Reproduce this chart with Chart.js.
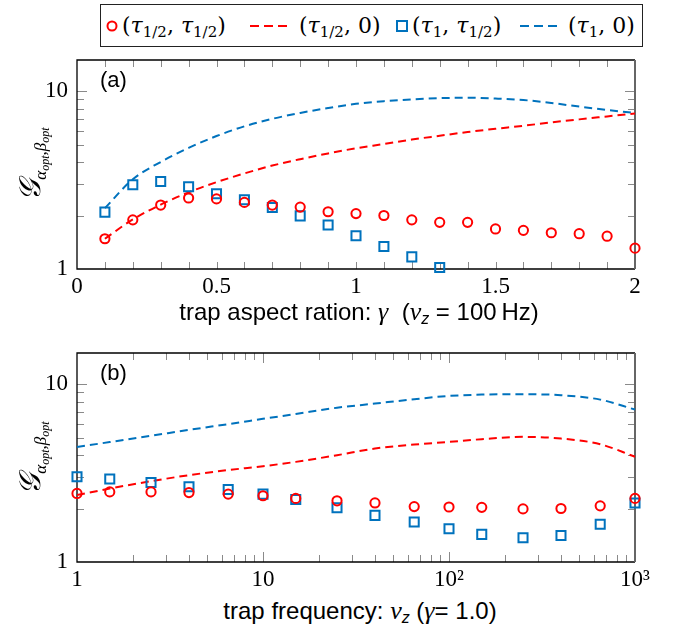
<!DOCTYPE html>
<html><head><meta charset="utf-8">
<script src="https://cdn.jsdelivr.net/npm/chart.js@4"></script>
<style>
body{margin:0;background:#fff;width:673px;height:635px;position:relative;overflow:hidden;font-family:"Liberation Sans",Arial,sans-serif;color:#000;}
canvas{position:absolute;left:0;}
.abs{position:absolute;white-space:nowrap;}
.lg{font-family:"DejaVu Serif",serif;font-size:22px;line-height:32px;top:10px;}
.lg sub{font-size:15px;vertical-align:-4px;line-height:0;}
.m{font-family:"Liberation Serif",serif;font-style:italic;}
.xt{font-size:24px;transform:translate(-50%,-50%);}
.xt .m{font-size:26px;}
.xt sub{font-size:16px;vertical-align:-4px;line-height:0;}
.yt{font-family:"Liberation Serif",serif;transform:translate(-50%,-50%) rotate(-90deg);}
.yt .G{font-size:30px;font-style:italic;}
.yt sub{font-size:17px;vertical-align:-6px;line-height:0;font-style:italic;}
.yt sub sub{font-size:12px;vertical-align:-3px;}
.pl{font-size:22px;}
</style>
</head><body>
<div class="abs" style="left:100px;top:4px;width:541px;height:41px;border:1.3px solid #222;"></div>
<svg class="abs" style="left:0;top:0" width="673" height="50">
  <circle cx="112" cy="26" r="4.5" fill="none" stroke="#ff0000" stroke-width="2"/>
  <line x1="250" y1="26" x2="288" y2="26" stroke="#ff0000" stroke-width="2.2" stroke-dasharray="9,5"/>
  <rect x="397" y="21" width="10" height="10" fill="none" stroke="#0072bd" stroke-width="2"/>
  <line x1="520" y1="26" x2="559" y2="26" stroke="#0072bd" stroke-width="2.2" stroke-dasharray="9,5"/>
</svg>
<div class="abs lg" style="left:122px;">(<i>τ</i><sub>1/2</sub>, <i>τ</i><sub>1/2</sub>)</div>
<div class="abs lg" style="left:299px;">(<i>τ</i><sub>1/2</sub>, 0)</div>
<div class="abs lg" style="left:412px;">(<i>τ</i><sub>1</sub>, <i>τ</i><sub>1/2</sub>)</div>
<div class="abs lg" style="left:568px;">(<i>τ</i><sub>1</sub>, 0)</div>

<canvas id="ca" width="673" height="250" style="top:50px"></canvas>
<canvas id="cb" width="673" height="250" style="top:340px"></canvas>

<div class="abs pl" style="left:100px;top:67px;">(a)</div>
<div class="abs pl" style="left:100px;top:360px;">(b)</div>

<div class="abs yt" style="left:30px;top:164px;"><span class="G">𝒢</span><sub>α<sub>opt</sub>,β<sub>opt</sub></sub></div>
<div class="abs yt" style="left:30px;top:458px;"><span class="G">𝒢</span><sub>α<sub>opt</sub>,β<sub>opt</sub></sub></div>

<div class="abs xt" style="left:359px;top:312px;">trap aspect ration: <span class="m">γ</span>&nbsp; (<span class="m">ν</span><sub><i>z</i></sub> = 100&#8201;Hz)</div>
<div class="abs xt" style="left:360px;top:611px;">trap frequency: <span class="m">ν</span><sub><i>z</i></sub> (<span class="m">γ</span>= 1.0)</div>

<script>
// ---------- data ----------
const gammaVals = [0.1,0.2,0.3,0.4,0.5,0.6,0.7,0.8,0.9,1.0,1.1,1.2,1.3,1.4,1.5,1.6,1.7,1.8,1.9,2.0];
const aCircles  = [1.48,1.89,2.29,2.51,2.48,2.37,2.29,2.23,2.10,2.05,2.00,1.89,1.83,1.83,1.68,1.65,1.60,1.58,1.53,1.31];
const aRedLine  = [1.48,1.90,2.30,2.70,3.08,3.45,3.82,4.15,4.47,4.78,5.05,5.35,5.62,5.90,6.15,6.40,6.68,6.95,7.22,7.50];
const gammaSq   = [0.1,0.2,0.3,0.4,0.5,0.6,0.7,0.8,0.9,1.0,1.1,1.2,1.3];
const aSquares  = [2.09,2.98,3.11,2.90,2.65,2.45,2.22,1.99,1.77,1.54,1.34,1.17,1.02];
const aBlueLine = [2.20,3.20,4.00,4.80,5.60,6.35,7.00,7.55,8.05,8.50,8.80,9.00,9.15,9.20,9.10,8.93,8.60,8.20,7.85,7.55];

const nuVals    = [1,1.5,2.5,4,6.5,10,15,25,40,65,100,150,250,400,650,1000];
const bCircles  = [2.43,2.48,2.48,2.46,2.41,2.36,2.28,2.21,2.15,2.05,2.04,2.03,1.99,2.00,2.07,2.28];
const bSquares  = [3.02,2.93,2.80,2.65,2.56,2.41,2.25,2.02,1.83,1.68,1.54,1.43,1.37,1.41,1.63,2.15];
const bRedLine  = [2.38,2.59,2.85,3.08,3.29,3.46,3.66,3.99,4.35,4.58,4.74,4.91,5.06,4.95,4.60,3.91];
const bBlueLine = [4.44,4.73,5.13,5.54,5.97,6.39,6.81,7.38,7.79,8.24,8.60,8.75,8.79,8.68,8.20,7.21];

const yTickVals   = [1,10];
const yTickLabels = ["1","10"];
const xTickValsA  = [0,0.5,1,1.5,2];
const xTickLabelsA= ["0","0.5","1","1.5","2"];
const xTickValsB  = [1,10,100,1000];
const xTickLabelsB= ["1","10","10\u00B2","10\u00B3"];

const RED = '#ff0000', BLUE = '#0072bd';

// ---------- helpers ----------
const pts = (xs, ys) => xs.map((x,i)=>({x:x, y:ys[i]}));
const logMinor = (lo, hi) => { const out=[]; for(let d=lo; d<hi; d*=10){ for(let k=1;k<10;k++){ const v=d*k; if(v>=lo && v<=hi) out.push({v, len: k===1?10:7}); } } out.push({v:hi,len:10}); return out; };

const frameTicks = {
  id:'frameTicks',
  beforeDatasetsDraw(chart, args, o){
    const {ctx, chartArea:{left,right,top,bottom}, scales:{x,y}} = chart;
    ctx.save();
    ctx.strokeStyle = '#8a8a8a'; ctx.lineWidth = 1;
    o.xt.forEach(t=>{ const p=Math.round(x.getPixelForValue(t.v))+0.5; if(p<left+1||p>right-1) return;
      ctx.beginPath(); ctx.moveTo(p,bottom); ctx.lineTo(p,bottom-t.len); ctx.moveTo(p,top); ctx.lineTo(p,top+t.len); ctx.stroke(); });
    o.yt.forEach(t=>{ const p=Math.round(y.getPixelForValue(t.v))+0.5; if(p<top+1||p>bottom-1) return;
      ctx.beginPath(); ctx.moveTo(left,p); ctx.lineTo(left+t.len,p); ctx.moveTo(right,p); ctx.lineTo(right-t.len,p); ctx.stroke(); });
    ctx.strokeStyle = '#000'; ctx.lineWidth = 1.3;
    ctx.beginPath(); ctx.moveTo(right,top); ctx.lineTo(left,top); ctx.lineTo(left,bottom); ctx.lineTo(right,bottom); ctx.stroke();
    ctx.strokeStyle = '#666'; ctx.lineWidth = 2;
    ctx.beginPath(); ctx.moveTo(right,top); ctx.lineTo(right,bottom); ctx.stroke();
    ctx.restore();
  }
};

function datasets(xs, circ, xsq, sq, red, blue){
  return [
    {data:pts(xs,circ), showLine:false, pointStyle:'circle', pointRadius:4.6, borderColor:RED, backgroundColor:'rgba(0,0,0,0)', pointBorderWidth:2, order:1, clip:false},
    {data:pts(xsq,sq), showLine:false, pointStyle:'rect', pointRadius:6.4, borderColor:BLUE, backgroundColor:'rgba(0,0,0,0)', pointBorderWidth:2, order:1, clip:false},
    {data:pts(xs,red), showLine:true, pointRadius:0, borderColor:RED, borderWidth:2, borderDash:[8,5], cubicInterpolationMode:'monotone', order:2, clip:false},
    {data:pts(xs,blue), showLine:true, pointRadius:0, borderColor:BLUE, borderWidth:2, borderDash:[8,5], cubicInterpolationMode:'monotone', order:2, clip:false}
  ];
}

function makeChart(id, ds, xScale, padTop, xH, xt){
  const tickFont = {family:'"Liberation Serif", serif', size:23};
  return new Chart(document.getElementById(id), {
    type:'scatter',
    data:{datasets:ds},
    options:{
      responsive:false, animation:false, devicePixelRatio:1,
      layout:{padding:{top:padTop, right:38, left:0, bottom:0}},
      plugins:{legend:{display:false}, tooltip:{enabled:false}, frameTicks:{xt, yt:logMinor(1,10).concat([{v:10,len:10}])}},
      scales:{
        x: Object.assign({grid:{display:false, drawTicks:false}, border:{display:false},
             afterFit(s){ s.height = xH; s.paddingLeft = 0; s.paddingRight = 0; }}, xScale),
        y:{type:'logarithmic', min:1, max:15, grid:{display:false, drawTicks:false}, border:{display:false},
           afterBuildTicks(s){ s.ticks = yTickVals.map(v=>({value:v})); },
           ticks:{padding:9, font:tickFont, color:'#000', callback:(v)=>yTickLabels[yTickVals.indexOf(v)] ?? ''},
           afterFit(s){ s.width = 77; s.paddingTop = 0; s.paddingBottom = 0; }}
      }
    },
    plugins:[frameTicks]
  });
}

const tickFontX = {family:'"Liberation Serif", serif', size:23};
const xtA = []; for(let k=1;k<20;k++) xtA.push({v:k/10, len:7});
makeChart('ca', datasets(gammaVals,aCircles,gammaSq,aSquares,aRedLine,aBlueLine),
  {type:'linear', min:0, max:2,
   afterBuildTicks(s){ s.ticks = xTickValsA.map(v=>({value:v})); },
   ticks:{padding:4, font:tickFontX, color:'#000', maxRotation:0, callback:(v)=>xTickLabelsA[xTickValsA.indexOf(v)] ?? ''}},
  10, 31, xtA);

makeChart('cb', datasets(nuVals,bCircles,nuVals,bSquares,bRedLine,bBlueLine),
  {type:'logarithmic', min:1, max:1000,
   afterBuildTicks(s){ s.ticks = xTickValsB.map(v=>({value:v})); },
   ticks:{padding:4, font:tickFontX, color:'#000', maxRotation:0, callback:(v)=>xTickLabelsB[xTickValsB.indexOf(v)] ?? ''}},
  13, 28, logMinor(1,1000));
</script>
</body></html>
